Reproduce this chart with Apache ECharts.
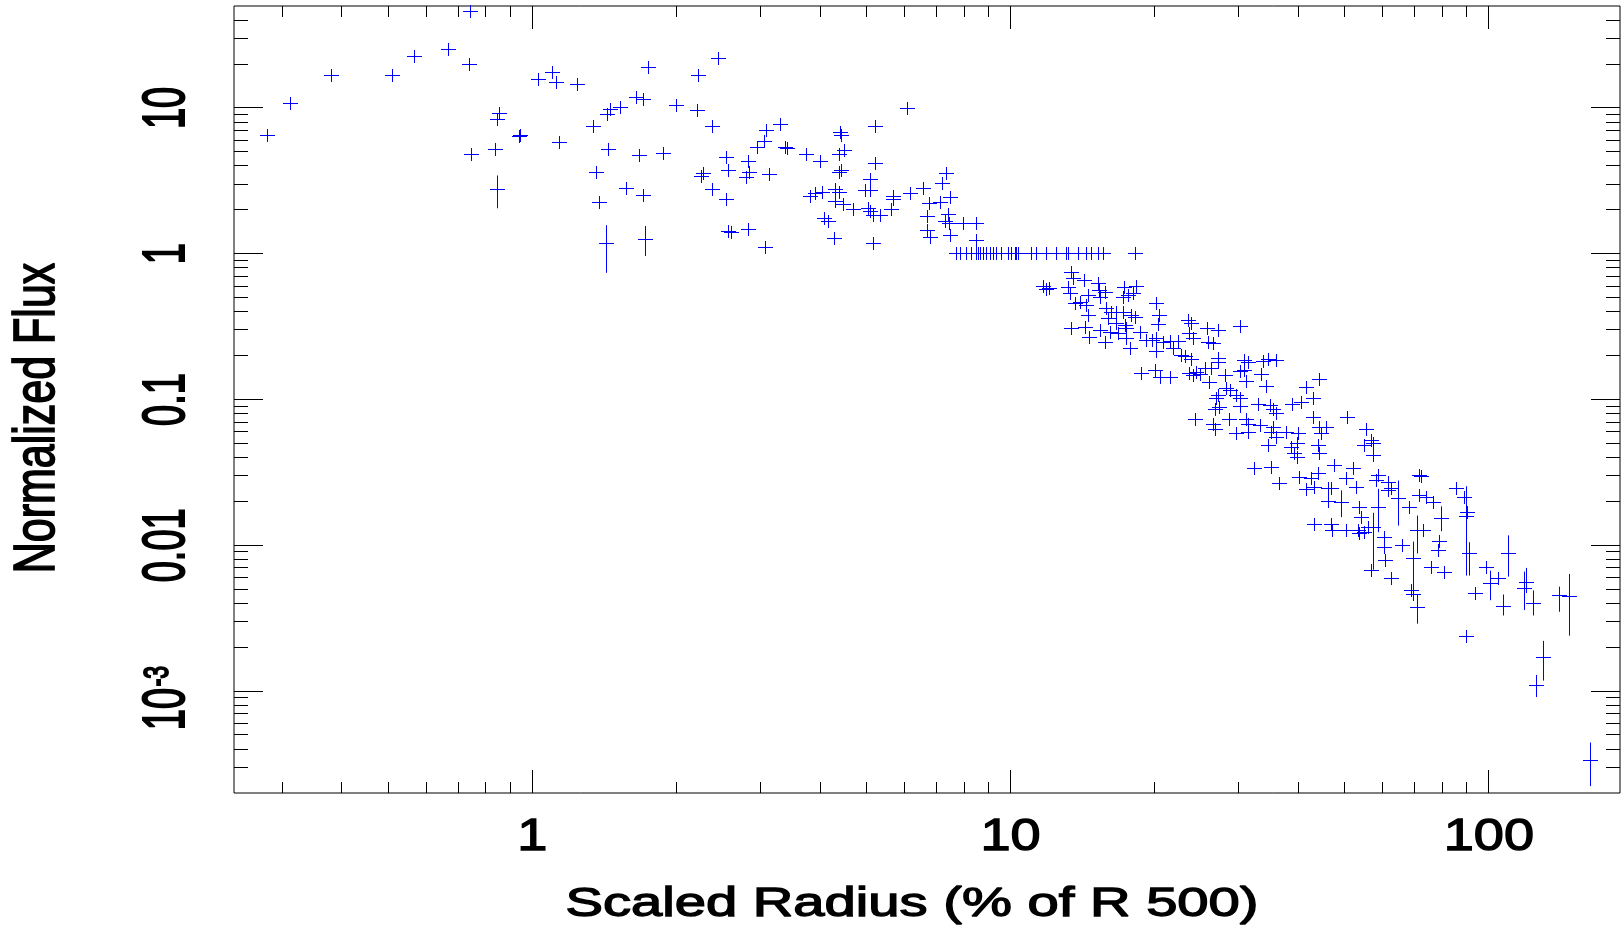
<!DOCTYPE html>
<html>
<head>
<meta charset="utf-8">
<script src="https://cdn.jsdelivr.net/npm/echarts@6/dist/echarts.min.js"></script>
<style>
html, body { margin: 0; padding: 0; background: #fff; }
#chart { width: 1624px; height: 933px; }
</style>
</head>
<body>
<div id="chart"></div>
<script>
// ---------------- data (radius in % of R500, normalized flux) ----------------
const innerPoints = [
  [0.279,6.5],[0.313,10.7],[0.380,16.6],[0.511,16.8],[0.568,22.6],[0.669,25.0],[0.742,46.1],[0.738,20.0],
  [0.855,9.12],[0.848,8.29],[0.747,4.79],[0.838,5.19],[0.848,2.74],[0.940,6.40],[0.946,6.50],[1.031,15.7],
  [1.103,17.5],[1.126,15.0],[1.246,14.5],[1.142,5.79],[1.345,7.46],[1.362,3.62],[1.385,2.25],[1.427,1.17],
  [1.439,8.97],[1.46,9.71],[1.532,10.08],[1.441,5.16],[1.649,11.87],[1.708,11.37],[1.748,18.97],[1.676,4.72],
  [1.571,2.78],[1.711,2.52],[1.725,1.255],[1.882,4.89],[2.006,10.35],[2.227,16.7],[2.453,21.8],[2.217,9.57]
];
const midPoints = [
  [2.385,7.46],[3.094,6.97],[3.30,7.74],[3.06,5.89],[2.958,5.36],[3.39,5.36],[3.42,5.30],[2.552,4.59],
  [2.83,4.29],[2.569,3.72],[2.845,3.60],[2.80,3.35],[2.28,3.56],[2.262,3.38],[3.13,3.49],[2.385,2.74],
  [2.552,2.36],[2.569,1.43],[2.615,1.40],[2.836,1.47],[3.08,1.10],[6.09,9.92],[3.74,4.79],[4.01,4.29],
  [4.42,6.78],[4.44,6.44],[5.21,7.50],[4.49,5.10],[4.39,4.77],[4.40,3.60],[4.44,3.72],[5.23,4.13],
  [5.09,3.24],[4.30,2.77],[4.40,2.62],[3.82,2.47],[3.92,2.57],[4.05,2.63],[4.30,2.28],[4.48,2.19],
  [4.98,2.70],[5.10,2.70],[4.69,2.00],[5.05,2.05],[5.10,1.94],[5.17,1.84],[5.34,1.84],[5.65,2.00],
  [5.68,2.47],[5.69,2.34],[6.18,2.57],[6.59,2.81],[7.36,3.53],[7.19,3.01],[7.48,2.43],[6.77,2.22],
  [7.13,2.24],[6.71,1.80],[7.42,1.87],[7.30,1.66],[7.45,1.62],[7.97,1.60],[8.47,1.62],[4.09,1.75],
  [4.16,1.66],[4.28,1.27],[5.17,1.18],[6.71,1.44],[6.81,1.29],[7.48,1.34],[8.50,1.24]
];
const plateauPoints = [
  [7.72,1],[7.85,1],[8.10,1],[8.30,1],[8.50,1],[8.57,1],[8.64,1],[8.78,1],[8.92,1],[9.07,1],
  [9.21,1],[9.36,1],[9.59,1],[9.90,1],[10.06,1],[10.22,1],[10.30,1],[10.38,1],[11.08,1],[11.34,1],
  [11.91,1],[12.50,1],[13.11,1],[13.22,1],[13.87,1],[14.43,1],[14.78,1],[15.27,1],[15.64,1],[18.21,1]
];
const outerPoints = [
  [13.42,0.748],[13.57,0.674],[14.27,0.656],[11.72,0.60],[12.09,0.58],[11.9,0.569],[13.22,0.590],[13.37,0.531],
  [15.27,0.622],[15.35,0.560],[15.8,0.540],[17.28,0.590],[18.36,0.600],[14.54,0.517],[15.39,0.504],[17.2,0.504],
  [17.63,0.517],[18.07,0.531],[13.64,0.4535],[13.98,0.466],[14.43,0.442],[14.54,0.377],[15.89,0.419],[16.28,0.3976],
  [16.68,0.3976],[17.2,0.3976],[17.93,0.377],[18.22,0.367],[16.04,0.3577],[16.68,0.330],[17.37,0.322],[17.5,0.3053],
  [20.22,0.4535],[20.48,0.377],[20.38,0.326],[13.42,0.3053],[14.38,0.313],[15.39,0.297],[16.15,0.290],[14.66,0.2676],
  [15.8,0.247],[16.81,0.282],[17.5,0.2606],[17.78,0.2225],[18.66,0.286],[19.27,0.254],[19.78,0.254],[20.22,0.2606],
  [20.87,0.247],[21.56,0.251],[22.44,0.251],[20.22,0.2133],[21.91,0.225],[22.8,0.200],[23.17,0.198],[23.9,0.188],
  [23.55,0.348],[23.9,0.330],[23.7,0.282],[24.17,0.2606],[25.78,0.3053],[27.18,0.297],[30.29,0.318],[25.91,0.247],
  [26.54,0.241],[27.18,0.190],[27.18,0.1802],[30.9,0.185],[31.4,0.178],[33.77,0.183],[34.6,0.188],[36.02,0.185],
  [18.75,0.1497],[20.05,0.158],[20.54,0.142],[21.56,0.142],[23.7,0.1497],[24.17,0.146],[24.5,0.1537],[24.91,0.148],
  [25.51,0.162],[26.3,0.162],[26.0,0.131],[28.1,0.146],[30.2,0.1555],[30.9,0.158],[33.5,0.148],[31.15,0.1327],
  [34.34,0.1233],[28.3,0.1194],[28.77,0.115],[29.7,0.1063],[30.2,0.1008],[26.99,0.1008],[27.18,0.1063],[41.5,0.1213],
  [44.25,0.137],[42.98,0.1008],[40.64,0.0957],[38.9,0.0931],[32.98,0.0931],[34.88,0.0908],[35.44,0.086],[36.02,0.0796],
  [30.2,0.0897],[26.76,0.086],[27.41,0.0884],[24.31,0.0734],[26.54,0.0679],[26.76,0.0627],[28.69,0.0734],[31.15,0.0734],
  [31.4,0.0679],[33.25,0.066],[29.7,0.058],[31.4,0.0595],[35.44,0.0644],[35.17,0.0595],[37.8,0.0595],[40.0,0.058],
  [36.0,0.055],[42.98,0.0755],[44.25,0.0644],[44.75,0.058],[45.84,0.0644],[50.72,0.0755],[55.56,0.0621],[56.9,0.0522]
];
const tailPoints = [
  [34.55,0.0484],[38.67,0.0472],[39.29,0.0425],[39.8,0.0403],[39.8,0.0497],[43.95,0.0484],[44.3,0.0425],[55.03,0.0484],
  [57.3,0.0497],[57.5,0.0413],[32.4,0.0338],[35.1,0.0339],[36.55,0.0264],[40.24,0.0294],[42.57,0.0286],[43.95,0.0309],
  [41.55,0.0240],[43.25,0.0251],[46.12,0.0244],[46.87,0.0244],[47.47,0.0353],[46.12,0.0200],[49.2,0.0198],[50.4,0.0286],
  [52.0,0.0335],[52.9,0.0251],[53.7,0.01826],[54.2,0.0156],[53.3,0.0126],[50.4,0.0126],[53.7,0.01197],[55.03,0.0123],
  [55.9,0.0133],[43.15,0.01386],[46.87,0.01386],[47.2,0.0126],[58.7,0.0301],[58.3,0.0278],[61.6,0.0271],[62.6,0.0244],
  [61.6,0.0238],[58.7,0.0183],[57.3,0.0133],[60.5,0.01135],[60.5,0.0097],[60.9,0.00785],[56.8,0.0067],[62.6,0.00588],
  [64.6,0.02085],[65.9,0.0099],[68.3,0.0183],[71.7,0.0301],[72.3,0.0296],[71.7,0.02196],[74.1,0.0214],[76.5,0.0198],
  [71.0,0.0126],[72.9,0.0126],[69.5,0.00806],[69.0,0.00489],[69.5,0.00463],[71.0,0.00375],[78.97,0.0106],[78.4,0.00915],
  [75.85,0.00706],[80.6,0.00653],[79.6,0.0152],[85.5,0.0244],[89.05,0.0214],[90.2,0.01688],[89.8,0.01575],[90.9,0.00872],
  [99.0,0.00706],[100.6,0.00548],[104.5,0.00588],[109.7,0.00882],[93.9,0.0047],[107.1,0.0038],[119.8,0.00557],[118.9,0.00509],
  [123.7,0.004],[140.7,0.00451],[147.6,0.00443],[89.8,0.00236],[129.9,0.0017],[125.8,0.0011],[163.2,0.000335]
];
// vertical error bars: [radius, low flux, high flux]
const errorBars = [
  [0.848,2.05,3.44],[1.427,0.74,1.57],[1.725,0.964,1.55],[49.2,0.0156,0.0238],[58.7,0.0123,0.0244],
  [57.3,0.0068,0.0167],[64.6,0.01365,0.0278],[71.0,0.0088,0.016],[69.5,0.00463,0.0106],[71.0,0.0029,0.0046],
  [79.6,0.0125,0.0185],[89.8,0.0062,0.0254],[90.9,0.0062,0.0105],[100.6,0.0042,0.0067],[109.7,0.0061,0.0117],
  [107.1,0.0033,0.0046],[119.8,0.0047,0.0070],[118.9,0.0036,0.0066],[123.7,0.0033,0.0049],[140.7,0.0035,0.0052],
  [147.6,0.0024,0.00636],[129.9,0.00118,0.00221],[125.8,0.00091,0.00129],[163.2,0.000223,0.000444]
];

// ---------------- axes ----------------
const xMin = 0.238, xMax = 188;
const yMin = 0.0002, yMax = 50;
const xMajorTicks = [1, 10, 100];
const xMinorTicks = [0.3,0.4,0.5,0.6,0.7,0.8,0.9, 2,3,4,5,6,7,8,9, 20,30,40,50,60,70,80,90];
const xTickLabels = ['1', '10', '100'];
const yMajorTicks = [0.001, 0.01, 0.1, 1, 10];
const yMinorTicks = [0.0003,0.0004,0.0005,0.0006,0.0007,0.0008,0.0009,
  0.002,0.003,0.004,0.005,0.006,0.007,0.008,0.009,
  0.02,0.03,0.04,0.05,0.06,0.07,0.08,0.09,
  0.2,0.3,0.4,0.5,0.6,0.7,0.8,0.9,
  2,3,4,5,6,7,8,9, 20,30,40];
const yTickLabels = ['10^-3', '0.01', '0.1', '1', '10'];
const xTitle = 'Scaled Radius (% of R 500)';
const yTitle = 'Normalized Flux';

const BLUE = '#0000ff';
const FONT = '"Liberation Sans", Arial, Helvetica, sans-serif';

function crisp(v) { return Math.round(v - 0.5) + 0.5; }

function tickSeries(values, axis, len) {
  return {
    type: 'custom', silent: true, animation: false, clip: false, z: 5,
    data: values.map(v => axis === 'x' ? [v, yMin] : [xMin, v]),
    renderItem(params, api) {
      const cs = params.coordSys;
      const p = api.coord([api.value(0), api.value(1)]);
      const st = { stroke: '#000', lineWidth: 1 };
      if (axis === 'x') {
        const x = crisp(p[0]);
        const b = cs.y + cs.height, t = cs.y;
        return { type: 'group', children: [
          { type: 'line', shape: { x1: x, y1: b, x2: x, y2: b - len }, style: st },
          { type: 'line', shape: { x1: x, y1: t, x2: x, y2: t + len }, style: st }
        ] };
      }
      const y = crisp(p[1]);
      const l = cs.x, r = cs.x + cs.width;
      return { type: 'group', children: [
        { type: 'line', shape: { x1: l, y1: y, x2: l + len, y2: y }, style: st },
        { type: 'line', shape: { x1: r, y1: y, x2: r - len, y2: y }, style: st }
      ] };
    }
  };
}

const allPoints = [].concat(innerPoints, midPoints, plateauPoints, outerPoints, tailPoints);

const chart = echarts.init(document.getElementById('chart'), null, { renderer: 'canvas' });
const option = {
  animation: false,
  backgroundColor: '#ffffff',
  grid: { left: 234, top: 6, width: 1386, height: 787, show: true, borderColor: '#000', borderWidth: 1, backgroundColor: 'transparent' },
  xAxis: {
    type: 'log', logBase: 10, min: xMin, max: xMax,
    axisLine: { show: false }, axisTick: { show: false }, axisLabel: { show: false },
    splitLine: { show: false }, minorTick: { show: false }
  },
  yAxis: {
    type: 'log', logBase: 10, min: yMin, max: yMax,
    axisLine: { show: false }, axisTick: { show: false }, axisLabel: { show: false },
    splitLine: { show: false }, minorTick: { show: false }
  },
  series: [
    tickSeries(xMajorTicks, 'x', 23),
    tickSeries(xMinorTicks, 'x', 11),
    tickSeries(yMajorTicks, 'y', 29),
    tickSeries(yMinorTicks, 'y', 14),
    {
      name: 'Error bars', type: 'custom', animation: false, z: 3,
      data: errorBars,
      encode: { x: 0, y: [1, 2] },
      renderItem(params, api) {
        const a = api.coord([api.value(0), api.value(1)]);
        const b = api.coord([api.value(0), api.value(2)]);
        const x = crisp(a[0]);
        return { type: 'line', shape: { x1: x, y1: a[1], x2: x, y2: b[1] }, style: { stroke: BLUE, lineWidth: 1 } };
      }
    },
    {
      name: 'Normalized Flux', type: 'custom', animation: false, z: 4,
      data: allPoints,
      encode: { x: 0, y: 1 },
      renderItem(params, api) {
        const p = api.coord([api.value(0), api.value(1)]);
        const x = crisp(p[0]), y = crisp(p[1]);
        const st = { stroke: BLUE, lineWidth: 1 };
        return { type: 'group', children: [
          { type: 'line', shape: { x1: x - 7.5, y1: y, x2: x + 7.5, y2: y }, style: st },
          { type: 'line', shape: { x1: x, y1: y - 6.5, x2: x, y2: y + 6.5 }, style: st }
        ] };
      }
    }
  ]
};
chart.setOption(option);

// ---------------- labels placed through the axis scales ----------------
const graphics = [];
function txt(text, x, y, size, opts) {
  return Object.assign({
    type: 'text', x: x, y: y, silent: true, z: 10,
    style: {
      text: text, font: 'normal ' + size + 'px ' + FONT, fill: '#000',
      stroke: '#000', lineWidth: 1.3,
      textAlign: 'center', textVerticalAlign: 'middle', align: 'center', verticalAlign: 'middle'
    }
  }, opts || {});
}
xMajorTicks.forEach((v, i) => {
  const px = chart.convertToPixel({ xAxisIndex: 0 }, v);
  graphics.push(txt(xTickLabels[i], px, 838, 44, { scaleX: 1.23 }));
});
yMajorTicks.forEach((v, i) => {
  const py = chart.convertToPixel({ yAxisIndex: 0 }, v);
  const lab = yTickLabels[i];
  if (lab.indexOf('^') >= 0) {
    const parts = lab.split('^');
    graphics.push(txt(parts[0], 167.5, py + 18, 38, { rotation: Math.PI / 2, scaleY: 1.55 }));
    graphics.push(txt(parts[1], 158.5, py - 15, 23, { rotation: Math.PI / 2, scaleY: 1.55 }));
  } else {
    graphics.push(txt(lab, 167.5, py, 38, { rotation: Math.PI / 2, scaleY: 1.55 }));
  }
});
graphics.push(txt(xTitle, 912, 905, 41, { scaleX: 1.37 }));
graphics.push(txt(yTitle, 38, 418, 43, { rotation: Math.PI / 2, scaleY: 1.33 }));
chart.setOption({ graphic: { elements: graphics } });
</script>
</body>
</html>
